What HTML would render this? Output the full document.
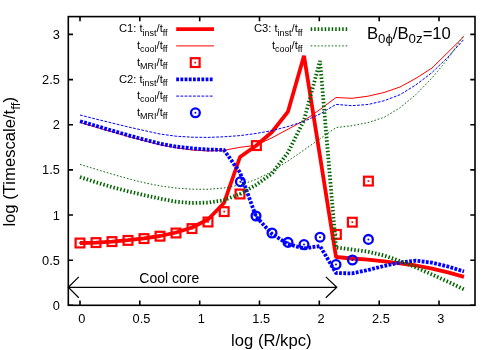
<!DOCTYPE html>
<html><head><meta charset="utf-8">
<style>
html,body{margin:0;padding:0;background:#fff;}
svg{display:block;will-change:transform;}
text{font-family:"Liberation Sans",sans-serif;fill:#000;}
</style></head><body>
<svg width="500" height="350" viewBox="0 0 500 350">
<rect x="0" y="0" width="500" height="350" fill="#fff"/>
<defs>
<g id="sq"><rect x="-4.4" y="-4.4" width="8.8" height="8.8" fill="none" stroke="#f00" stroke-width="2.2"/><rect x="-0.85" y="-0.85" width="1.7" height="1.7" fill="#f00"/></g>
<g id="ci"><circle r="4.4" fill="none" stroke="#00f" stroke-width="2.3"/><circle r="1.0" fill="#00f"/></g>
</defs>
<!-- C1 red -->
<g fill="none">
<polyline stroke="#f00" stroke-width="3.8" stroke-linejoin="bevel" points="80,243 96,242.6 112,241.6 128,240.2 144,238.4 160,236 176,232.5 192,227.5 208,219.5 224,203 240,157 256,145.8 272,132 288,111.6 304,55.8 336,257 352,258.5 368,259.7 384,261.3 400,263.3 416,265.5 432,268.7 448,272.3 464,276.8"/>
<polyline stroke="#f00" stroke-width="1" stroke-linejoin="round" points="80,122.4 96,127.2 112,131.8 128,136.4 144,140.7 160,144.8 176,147.8 192,150 208,151 224,150.3 240,147.3 256,145.3 272,137.8 288,129.2 304,120.6 320,109.5 336,97.5 352,98.3 368,96.2 384,92.5 400,87 416,78.3 432,68 448,52.3 464,36.4"/>
</g>
<g>
<use href="#sq" x="80" y="243"/><use href="#sq" x="96" y="242.6"/><use href="#sq" x="112" y="241.6"/><use href="#sq" x="128" y="240.4"/><use href="#sq" x="144" y="238.6"/><use href="#sq" x="160" y="236.2"/><use href="#sq" x="176" y="233"/><use href="#sq" x="192" y="228.6"/><use href="#sq" x="208" y="222"/><use href="#sq" x="224.2" y="211.6"/><use href="#sq" x="240" y="194"/><use href="#sq" x="256.4" y="145.6"/><use href="#sq" x="336.4" y="234.4"/><use href="#sq" x="352.3" y="222.2"/><use href="#sq" x="368.4" y="181.1"/>
</g>
<!-- C2 blue -->
<g fill="none">
<polyline stroke="#00f" stroke-width="3.8" stroke-linejoin="miter" stroke-dasharray="2.8 1.4" points="80,121.2 96,125.9 112,130.6 128,135.2 144,139.6 160,143.6 176,146.6 192,148.4 208,149.5 224,150 240,172.5 256,216.5 272,234 288,244 304,248.5 320,246 336,273 352,273.4 368,270 384,266 400,262.5 416,260.7 432,262.7 448,266.5 464,271.5"/>
<polyline stroke="#00f" stroke-width="1" stroke-linejoin="round" stroke-dasharray="2.8 1.4" points="80,115 96,119.1 112,123 128,126.9 144,130.5 160,134 176,136.2 192,137.2 208,137.4 224,136.8 240,135.6 256,133.5 272,130.6 288,126.5 304,121.4 320,114 336,104.4 352,105.7 368,104.5 384,100.8 400,94.7 416,84.8 432,72.6 448,57 464,39.2"/>
</g>
<g>
<use href="#ci" x="240.4" y="181.7"/><use href="#ci" x="256" y="216"/><use href="#ci" x="272" y="233"/><use href="#ci" x="288" y="242.4"/><use href="#ci" x="304" y="244.6"/><use href="#ci" x="320" y="237.2"/><use href="#ci" x="336" y="264.6"/><use href="#ci" x="352.4" y="260"/><use href="#ci" x="368.4" y="239.4"/>
</g>
<!-- C3 green -->
<g fill="none">
<polyline stroke="#006400" stroke-width="3.8" stroke-linejoin="miter" stroke-dasharray="1.5 2" points="80,177 96,182.3 112,187.1 128,191.3 144,195.1 160,198.6 176,201.7 192,203 208,202.6 224,200.2 240,194 256,185 272,173.5 288,152.5 304,120.2 320,61 336,247.5 352,249.5 368,251.7 384,255.5 400,261 416,267.4 432,274.5 448,281.7 464,289.4"/>
<polyline stroke="#006400" stroke-width="0.95" stroke-linejoin="round" stroke-dasharray="1.6 1.9" points="80,164.4 96,169.3 112,174.1 128,178.7 144,182.7 160,185.9 176,188.1 192,189.2 208,189.3 224,188 240,185 256,179.5 272,171.5 288,161 304,150 320,138.8 336,127.6 352,125.7 368,122.6 384,117.4 400,107.8 416,94.5 432,78 448,58.7 464,34.8"/>
</g>
<g stroke="#000" stroke-width="1.6" fill="none" stroke-linecap="butt">
<rect x="68.3" y="16.6" width="406.7" height="288.7"/>
<path d="M80.0,305.3v-4.7M80.0,16.6v4.7M139.8,305.3v-4.7M139.8,16.6v4.7M199.7,305.3v-4.7M199.7,16.6v4.7M259.5,305.3v-4.7M259.5,16.6v4.7M319.3,305.3v-4.7M319.3,16.6v4.7M379.2,305.3v-4.7M379.2,16.6v4.7M439.0,305.3v-4.7M439.0,16.6v4.7"/>
<path d="M68.3,305.3h4.7M475.0,305.3h-4.7M68.3,260.2h4.7M475.0,260.2h-4.7M68.3,215.0h4.7M475.0,215.0h-4.7M68.3,169.9h4.7M475.0,169.9h-4.7M68.3,124.7h4.7M475.0,124.7h-4.7M68.3,79.6h4.7M475.0,79.6h-4.7M68.3,34.4h4.7M475.0,34.4h-4.7"/>
</g>
<g stroke="#000" stroke-width="1.2" fill="none" stroke-linejoin="miter"><path d="M68.3,287.3H336.8M78.8,276.90000000000003L68.3,287.3L78.8,297.7M325.8,276.90000000000003L336.8,287.3L325.8,297.7"/></g>
<g font-size="12.8" text-anchor="end"><text x="59.9" y="309.8">0</text><text x="59.9" y="264.7">0.5</text><text x="59.9" y="219.5">1</text><text x="59.9" y="174.4">1.5</text><text x="59.9" y="129.2">2</text><text x="59.9" y="84.1">2.5</text><text x="59.9" y="38.9">3</text></g>
<g font-size="12.8" text-anchor="middle"><text x="81.7" y="323.3">0</text><text x="141.5" y="323.3">0.5</text><text x="201.4" y="323.3">1</text><text x="261.2" y="323.3">1.5</text><text x="321.0" y="323.3">2</text><text x="380.9" y="323.3">2.5</text><text x="440.7" y="323.3">3</text></g>
<text x="271.3" y="345.5" font-size="16.65" text-anchor="middle">log (R/kpc)</text>
<text transform="translate(14.8,226.6) rotate(-90)" font-size="16.65">log (Timescale/t<tspan font-size="13.3" dy="5.2">ff</tspan><tspan font-size="16.65" dy="-5.2">)</tspan></text>
<text x="169.3" y="283" font-size="14" text-anchor="middle">Cool core</text>
<text x="366.9" y="38.5" font-size="16.65">B<tspan font-size="13.3" dy="4.8">0&#981;</tspan><tspan font-size="16.65" dy="-4.8">/B</tspan><tspan font-size="13.3" dy="4.8">0z</tspan><tspan font-size="16.65" dy="-4.8">=10</tspan></text>
<g font-size="11.2" text-anchor="end">
<text x="167.6" y="32.3">C1: t<tspan font-size="9" dy="3.2">inst</tspan><tspan font-size="11.2" dy="-3.2">/t</tspan><tspan font-size="9" dy="3.2">ff</tspan></text>
<text x="167.6" y="49.0">t<tspan font-size="9" dy="3.2">cool</tspan><tspan font-size="11.2" dy="-3.2">/t</tspan><tspan font-size="9" dy="3.2">ff</tspan></text>
<text x="167.6" y="65.7">t<tspan font-size="9" dy="3.2">MRI</tspan><tspan font-size="11.2" dy="-3.2">/t</tspan><tspan font-size="9" dy="3.2">ff</tspan></text>
<text x="167.6" y="82.5">C2: t<tspan font-size="9" dy="3.2">inst</tspan><tspan font-size="11.2" dy="-3.2">/t</tspan><tspan font-size="9" dy="3.2">ff</tspan></text>
<text x="167.6" y="99.2">t<tspan font-size="9" dy="3.2">cool</tspan><tspan font-size="11.2" dy="-3.2">/t</tspan><tspan font-size="9" dy="3.2">ff</tspan></text>
<text x="167.6" y="115.9">t<tspan font-size="9" dy="3.2">MRI</tspan><tspan font-size="11.2" dy="-3.2">/t</tspan><tspan font-size="9" dy="3.2">ff</tspan></text>
<text x="302.6" y="32.3">C3: t<tspan font-size="9" dy="3.2">inst</tspan><tspan font-size="11.2" dy="-3.2">/t</tspan><tspan font-size="9" dy="3.2">ff</tspan></text>
<text x="302.6" y="49.0">t<tspan font-size="9" dy="3.2">cool</tspan><tspan font-size="11.2" dy="-3.2">/t</tspan><tspan font-size="9" dy="3.2">ff</tspan></text>
</g>
<g fill="none">
<path d="M176.2,29.2H214" stroke="#f00" stroke-width="3.7"/>
<path d="M176.2,45.9H214" stroke="#f00" stroke-width="1"/>
<use href="#sq" x="195.2" y="62.6"/>
<path d="M176.2,79.4H214" stroke="#00f" stroke-width="3.7" stroke-dasharray="2.8 1.4"/>
<path d="M176.2,96.1H214" stroke="#00f" stroke-width="1" stroke-dasharray="2.8 1.4"/>
<use href="#ci" x="195.4" y="112.8"/>
<path d="M310.7,29.2H347.3" stroke="#006400" stroke-width="3.7" stroke-dasharray="1.5 2"/>
<path d="M310.7,45.9H347.3" stroke="#006400" stroke-width="0.95" stroke-dasharray="1.6 1.9"/>
</g>
</svg>
</body></html>
